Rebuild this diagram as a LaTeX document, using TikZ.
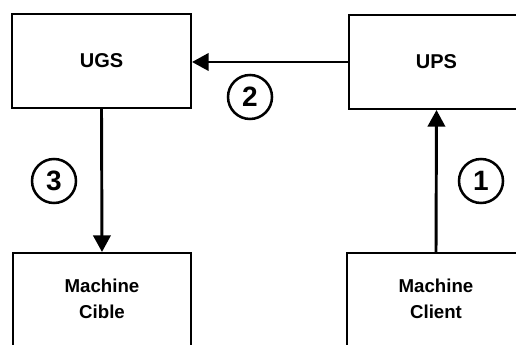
\documentclass[tikz,border=0pt]{standalone}
\usepackage{fontspec}
\setmainfont{Liberation Sans}
\usetikzlibrary{arrows.meta}
\begin{document}
\begin{tikzpicture}[x=0.75pt,y=-0.75pt,
  box/.style={draw, line width=1.5pt, rectangle, font=\fontsize{15}{20}\selectfont\bfseries, align=center, inner sep=0pt},
  mbox/.style={box, font=\fontsize{14}{20}\selectfont\bfseries, text depth=0pt},
  num/.style={draw, circle, line width=1.9pt, minimum size=33pt, inner sep=0pt, font=\fontsize{21}{21}\selectfont\bfseries},
  conn/.style={line width=2.2pt, -{Triangle[length=12.5pt,width=13pt]}}]
\useasboundingbox (0,0) rectangle (516,345);
\clip (0,0) rectangle (516,345);
\node[box, minimum width=134.25pt, minimum height=70.5pt] (ugs) at (101.5,61) {UGS};
\node[box, minimum width=131.25pt, minimum height=70.5pt] (ups) at (436.5,62) {UPS};
\node[box, minimum width=133.5pt, minimum height=74.25pt] (cible) at (102,302.5) {};
\node[box, minimum width=133.5pt, minimum height=74.25pt] (client) at (436,302.5) {};
\node[font=\fontsize{14}{20}\selectfont\bfseries, align=center, anchor=north] (ct) at (102,274) {Machine\\Cible};
\node[font=\fontsize{14}{20}\selectfont\bfseries, align=center, anchor=north] (cl) at (436,274) {Machine\\Client};
\draw[conn] (ups.west) -- (ugs.east |- ups.west);
\draw[conn] (ugs.south) -- (cible.north);
\draw[conn] (client.north) -- (ups.south);
\node[num] (n1) at (481,181) {1};
\node[num] (n2) at (250,97) {2};
\node[num] (n3) at (54,181) {3};
\end{tikzpicture}
\end{document}
